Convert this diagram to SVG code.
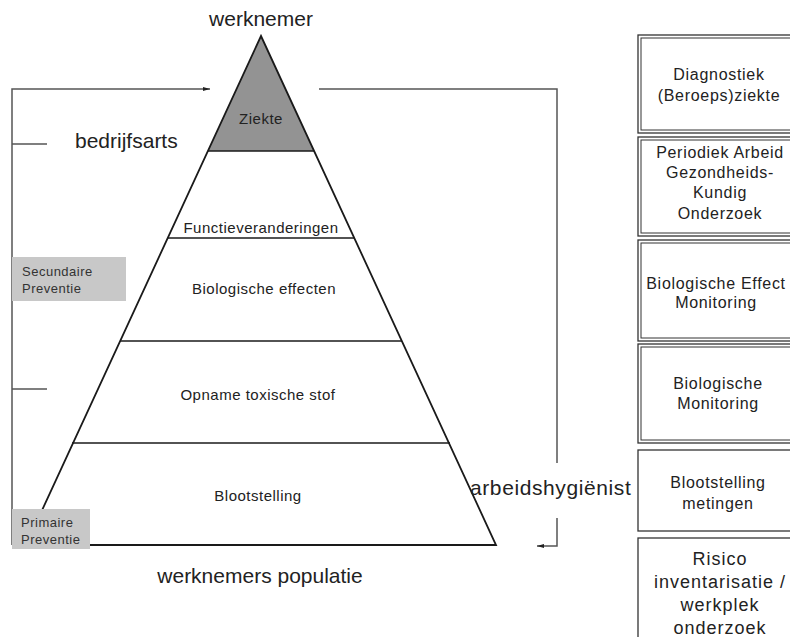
<svg xmlns="http://www.w3.org/2000/svg" width="790" height="637" viewBox="0 0 790 637">
<defs>
<style>
text{font-family:"Liberation Sans",Arial,sans-serif;fill:#222}
.big{font-size:21px}
.lay{font-size:15px;letter-spacing:0.5px;text-anchor:middle}
.box{font-size:16px;letter-spacing:0.7px;text-anchor:middle}
.box6{font-size:18px;letter-spacing:1px;text-anchor:middle}
.prev{font-size:13px;letter-spacing:0.5px;fill:#333}
.pyr{fill:none;stroke:#1a1a1a;stroke-width:1.8;stroke-linejoin:miter}
.lay-line{stroke:#1a1a1a;stroke-width:1.7}
.conn{fill:none;stroke:#555;stroke-width:1.5}
.outer{fill:#fff;stroke:#333;stroke-width:1.3}
.inner{fill:none;stroke:#333;stroke-width:1}
.tag{fill:#c8c8c8}
</style>
<marker id="ah" viewBox="0 0 10 10" refX="10" refY="5" markerWidth="8" markerHeight="7" orient="auto-start-reverse" markerUnits="userSpaceOnUse">
<path d="M0,2 L10,5 L0,8 z" fill="#222"/>
</marker>
</defs>
<rect width="790" height="637" fill="#fff"/>

<g id="connectors">
<path class="conn" d="M12,545 L12,89 L210,89" marker-end="url(#ah)"/>
<line class="conn" x1="12" y1="144" x2="47" y2="144"/>
<line class="conn" x1="12" y1="389" x2="47" y2="389"/>
<path class="conn" d="M319,89 L557,89 L557,463"/>
<path class="conn" d="M557,518 L557,546 L537,546" marker-end="url(#ah)"/>
</g>

<g id="pyramid">
<polygon points="261,36 314,151 208,151" fill="#939393"/>
<polygon class="pyr" points="261,36 496,545 26,545"/>
<line class="lay-line" x1="208" y1="151" x2="314" y2="151"/>
<line class="lay-line" x1="168" y1="238" x2="354" y2="238"/>
<line class="lay-line" x1="120" y1="341" x2="402" y2="341"/>
<line class="lay-line" x1="72" y1="443" x2="450" y2="443"/>
</g>

<g id="ziekte"><text class="lay" x="261" y="124">Ziekte</text></g>
<g id="functieveranderingen"><text class="lay" x="261" y="233">Functieveranderingen</text></g>
<g id="biologische-effecten"><text class="lay" x="264" y="294">Biologische effecten</text></g>
<g id="opname"><text class="lay" x="258" y="400">Opname toxische stof</text></g>
<g id="blootstelling"><text class="lay" x="258" y="501">Blootstelling</text></g>

<g id="werknemer"><text class="big" x="261" y="26" text-anchor="middle">werknemer</text></g>
<g id="bedrijfsarts"><text class="big" x="75" y="148">bedrijfsarts</text></g>
<g id="arbeidshygienist"><text class="big" x="470" y="495" letter-spacing="0.6">arbeidshygiënist</text></g>
<g id="populatie"><text class="big" x="260" y="583" text-anchor="middle">werknemers populatie</text></g>

<g id="secundaire">
<rect class="tag" x="12" y="257" width="114" height="44"/>
<text class="prev" x="22" y="276">Secundaire</text>
<text class="prev" x="22" y="293">Preventie</text>
</g>
<g id="primaire">
<rect class="tag" x="12" y="509" width="78" height="40"/>
<text class="prev" x="21" y="527">Primaire</text>
<text class="prev" x="21" y="544">Preventie</text>
</g>

<g id="box-diagnostiek">
<rect class="outer" x="638" y="35" width="170" height="98"/>
<rect class="inner" x="641" y="38" width="170" height="92"/>
<text class="box" x="719" y="80">Diagnostiek</text>
<text class="box" x="719" y="101">(Beroeps)ziekte</text>
</g>
<g id="box-periodiek">
<rect class="outer" x="638" y="137" width="170" height="99"/>
<rect class="inner" x="641" y="140" width="170" height="93"/>
<text class="box" x="720" y="158">Periodiek Arbeid</text>
<text class="box" x="720" y="178">Gezondheids-</text>
<text class="box" x="720" y="198">Kundig</text>
<text class="box" x="720" y="219">Onderzoek</text>
</g>
<g id="box-effect">
<rect class="outer" x="638" y="240" width="170" height="101"/>
<rect class="inner" x="641" y="243" width="170" height="95"/>
<text class="box" x="716" y="289">Biologische Effect</text>
<text class="box" x="716" y="308">Monitoring</text>
</g>
<g id="box-monitoring">
<rect class="outer" x="638" y="344" width="170" height="99"/>
<rect class="inner" x="641" y="347" width="170" height="93"/>
<text class="box" x="718" y="389">Biologische</text>
<text class="box" x="718" y="409">Monitoring</text>
</g>
<g id="box-metingen">
<rect class="outer" x="638" y="450" width="170" height="81"/>
<text class="box" x="718" y="488">Blootstelling</text>
<text class="box" x="718" y="509">metingen</text>
</g>
<g id="box-risico">
<rect class="outer" x="638" y="538" width="170" height="120"/>
<text class="box6" x="720" y="565">Risico</text>
<text class="box6" x="720" y="588">inventarisatie /</text>
<text class="box6" x="720" y="611">werkplek</text>
<text class="box6" x="720" y="634">onderzoek</text>
</g>
</svg>
